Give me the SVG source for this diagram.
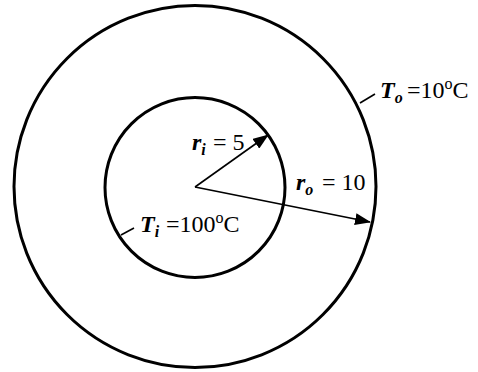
<svg xmlns="http://www.w3.org/2000/svg" width="478" height="372" viewBox="0 0 478 372">
<style>
.circ{fill:none;stroke:#000;stroke-width:3}
.ln{stroke:#000;stroke-width:1.6;fill:none}
.t{font-family:"Liberation Serif","Times New Roman",serif;font-size:24px;fill:#000}
.bi{font-weight:bold;font-style:italic}
.sm{font-size:16px}
</style>
<defs>
<marker id="ah" viewBox="0 0 16 12" refX="15" refY="6" markerWidth="16" markerHeight="12" markerUnits="userSpaceOnUse" orient="auto">
<path d="M0,0 L16,6 L0,12 Z" fill="#000"/>
</marker>
</defs>
<rect width="478" height="372" fill="#fff"/>
<g id="outer"><circle class="circ" cx="195" cy="186.5" r="181"/></g>
<g id="inner"><circle class="circ" cx="195" cy="187.5" r="90"/></g>
<g id="connectors">
<line class="ln" x1="195" y1="187" x2="268" y2="135" marker-end="url(#ah)"/>
<line class="ln" x1="195" y1="187" x2="370" y2="222" marker-end="url(#ah)"/>
<line class="ln" x1="360" y1="103" x2="375" y2="94"/>
<line class="ln" x1="121" y1="235" x2="134" y2="228"/>
</g>
<g id="label-To"><text class="t" x="380" y="98"><tspan class="bi">T</tspan><tspan class="bi sm" dy="5">o</tspan><tspan dy="-5" x="407">=10</tspan><tspan class="sm" dy="-9">o</tspan><tspan dy="9">C</tspan></text></g>
<g id="label-ri"><text class="t" x="192" y="150"><tspan class="bi">r</tspan><tspan class="bi sm" dy="5">i</tspan><tspan dy="-5" x="213">= 5</tspan></text></g>
<g id="label-ro"><text class="t" x="296" y="190"><tspan class="bi">r</tspan><tspan class="bi sm" dy="5">o</tspan><tspan dy="-5" x="322">= 10</tspan></text></g>
<g id="label-Ti"><text class="t" x="140" y="232"><tspan class="bi">T</tspan><tspan class="bi sm" dy="5">i</tspan><tspan dy="-5" x="166">=100</tspan><tspan class="sm" dy="-9">o</tspan><tspan dy="9">C</tspan></text></g>
</svg>
